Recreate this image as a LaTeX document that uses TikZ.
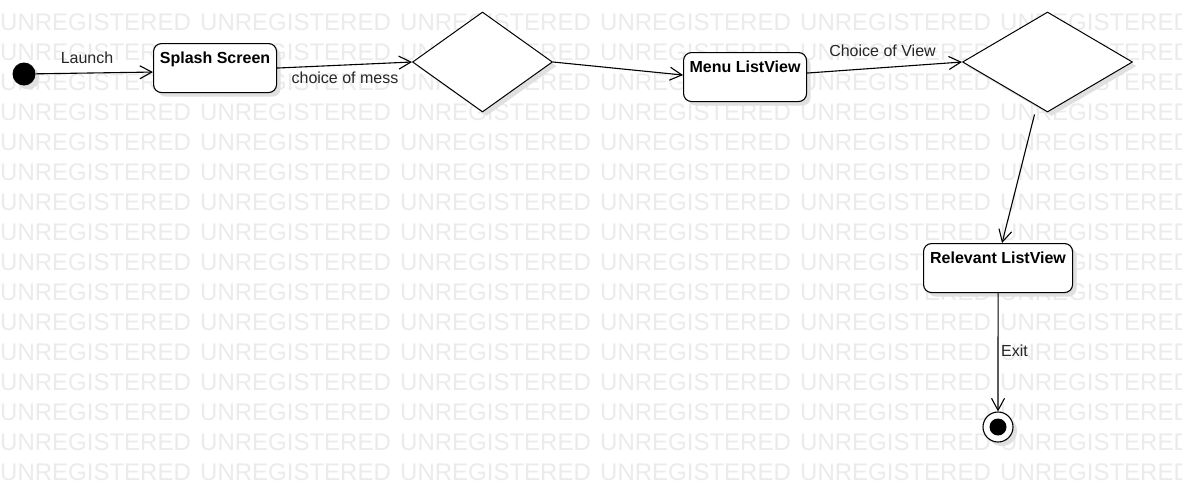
\documentclass[tikz,border=0pt]{standalone}
\usepackage{fontspec}
\setmainfont{Liberation Sans}
\usetikzlibrary{shadows,arrows.meta,shapes.geometric}

\begin{document}
\begin{tikzpicture}[x=1pt, y=-1pt,
        wmark/.style={anchor=base west, inner sep=0pt, text=black!8, font=\fontsize{24}{28}\selectfont},
        sshadow/.style={drop shadow={shadow xshift=4pt, shadow yshift=-4pt, fill=black!12, opacity=1}},
        state/.style={rectangle, rounded corners=8pt, draw=black, line width=1.1pt, fill=white, sshadow,
            anchor=north west, inner sep=0pt, text height=20pt, text depth=29pt,
            font=\fontsize{16}{19}\selectfont\bfseries},
        choice/.style={diamond, draw=black, line width=1pt, fill=white, sshadow, inner sep=0pt},
        flow/.style={-{Straight Barb[length=12pt, width=13pt]}, line width=1.1pt},
        lbl/.style={anchor=base, inner sep=0pt, font=\fontsize{16}{19}\selectfont, text=black!85}]

    % Фон:
    \fill[white] (0,0) rectangle (1182,493);
    \useasboundingbox (0,0) rectangle (1182,493);
    \foreach \r in {0,...,15} {
        \foreach \c in {0,...,5} {
            \node[wmark] (wm-\r-\c) at (200*\c, 30.5+30*\r) {UNREGISTERED};
        }
    }

    % Состояния:
    \node[circle, fill=black, minimum size=23pt, inner sep=0pt, sshadow] (init) at (24,74) {};
    \node[state, minimum width=123pt] (splash) at (153,43) {Splash Screen};
    \node[choice, minimum width=140pt, minimum height=100pt] (d1) at (482.5,62) {};
    \node[state, minimum width=123pt] (menu) at (683,52) {Menu ListView};
    \node[choice, minimum width=170pt, minimum height=100pt] (d2) at (1047.5,62) {};
    \node[state, minimum width=149pt] (relevant) at (923,243) {Relevant ListView};
    \node[circle, draw=black, line width=1.1pt, fill=white, minimum size=30pt, inner sep=0pt, sshadow] (final) at (998,427) {};
    \node[circle, fill=black, minimum size=17pt, inner sep=0pt] (final-dot) at (final) {};

    % Переходы:
    \draw[flow] (init) -- ([yshift=-4pt]splash.west);
    \draw[flow] (splash.east) -- (d1.west);
    \draw[flow] (d1.east) -- ([yshift=2pt]menu.west);
    \draw[flow] ([yshift=4pt]menu.east) -- (d2.west);
    \draw[flow] ([xshift=-13pt, yshift=-2pt]d2.south) -- ([xshift=4pt]relevant.north);
    \draw[flow] (relevant.south) -- (final);

    % Подписи:
    \node[lbl] (launch-lbl) at (87,63) {Launch};
    \node[lbl] (mess-lbl) at (345,83) {choice of mess};
    \node[lbl] (view-lbl) at (882.5,56) {Choice of View};
    \node[lbl] (exit-lbl) at (1014.5,356) {Exit};
\end{tikzpicture}
\end{document}
